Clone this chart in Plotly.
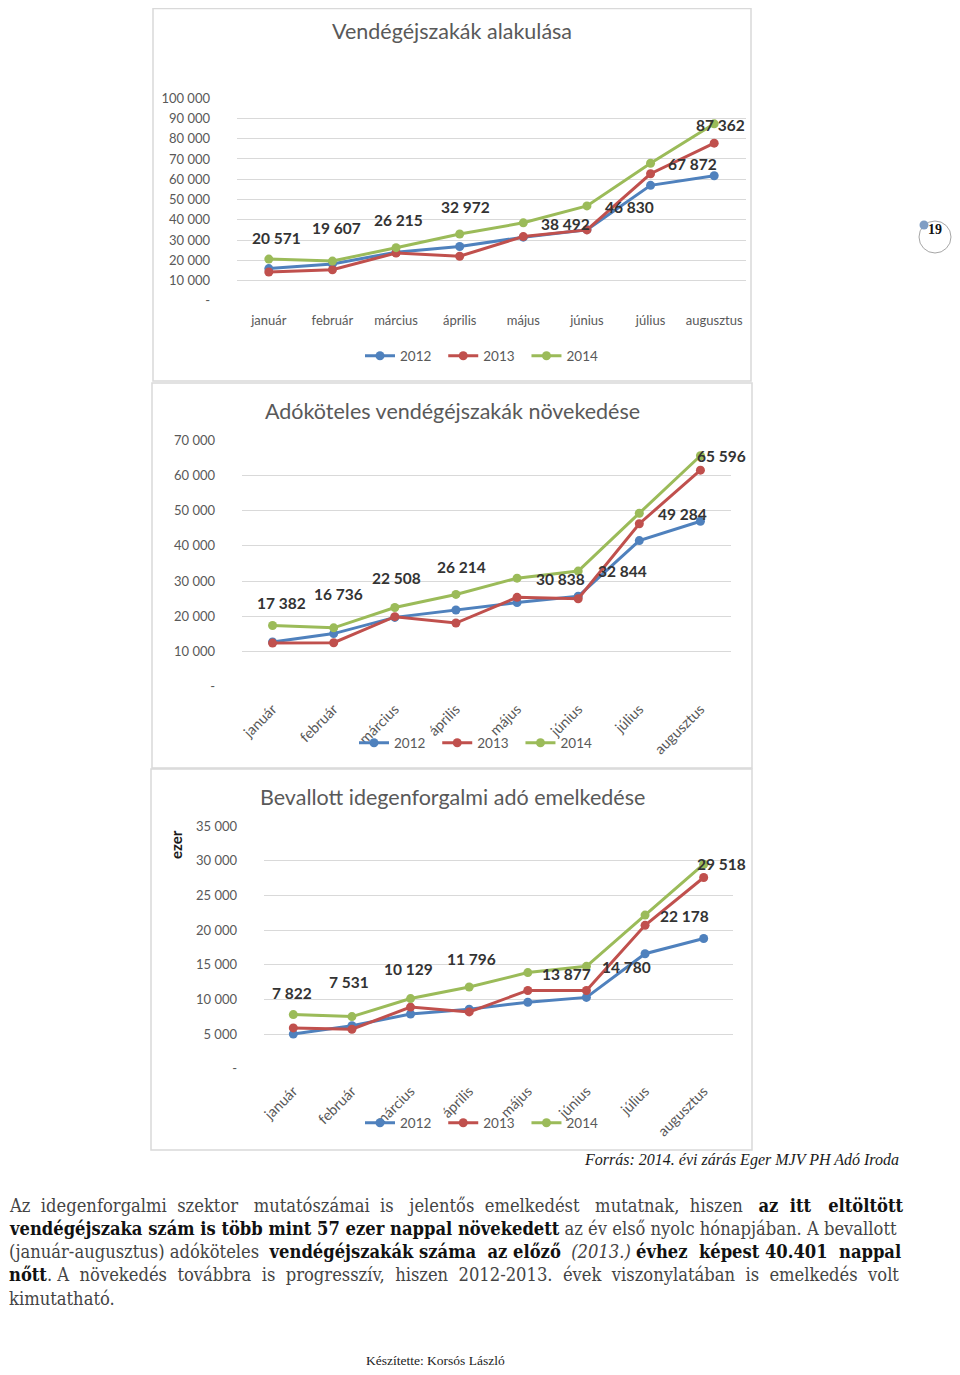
import plotly.graph_objects as go

# The html page has an 8px body margin on every side, so the figure is laid out
# in screen coordinates shifted by that margin and sized to avoid scrollbars.
BODY = 8
W, H = 960 - BODY, 1375 - 2 * BODY

# ---------------- data ----------------
months = ["január", "február", "március", "április", "május", "június", "július", "augusztus"]
years = ["2012", "2013", "2014"]

guest_2012 = [15900, 18200, 24000, 26800, 31400, 35100, 57000, 61700]
guest_2013 = [14200, 15300, 23600, 22000, 31700, 35000, 62700, 77800]
guest_2014 = [20571, 19607, 26215, 32972, 38492, 46830, 67872, 87362]

taxable_2012 = [12700, 15100, 19700, 21800, 23900, 25700, 41500, 47000]
taxable_2013 = [12400, 12500, 19900, 18100, 25400, 25000, 46300, 61500]
taxable_2014 = [17382, 16736, 22508, 26214, 30838, 32844, 49284, 65596]

tax_2012 = [5000, 6200, 7900, 8600, 9600, 10300, 16600, 18800]
tax_2013 = [5900, 5700, 8900, 8200, 11300, 11300, 20700, 27600]
tax_2014 = [7822, 7531, 10129, 11796, 13877, 14780, 22178, 29518]

ticks_guest = [0, 10000, 20000, 30000, 40000, 50000, 60000, 70000, 80000, 90000, 100000]
ticktext_guest = ["-", "10 000", "20 000", "30 000", "40 000", "50 000", "60 000",
                  "70 000", "80 000", "90 000", "100 000"]
ticks_taxable = [0, 10000, 20000, 30000, 40000, 50000, 60000, 70000]
ticktext_taxable = ["-", "10 000", "20 000", "30 000", "40 000", "50 000", "60 000", "70 000"]
ticks_tax = [0, 5000, 10000, 15000, 20000, 25000, 30000, 35000]
ticktext_tax = ["-", "5 000", "10 000", "15 000", "20 000", "25 000", "30 000", "35 000"]

titles = ["Vendégéjszakák alakulása",
          "Adóköteles vendégéjszakák növekedése",
          "Bevallott idegenforgalmi adó emelkedése"]

# paragraph lines as (text, style) segments: n = normal, b = bold, i = italic
para = [
    [("Az idegenforgalmi szektor mutatószámai is jelentős emelkedést mutatnak, hiszen ", "n"),
     ("az itt eltöltött", "b")],
    [("vendégéjszaka szám is több mint 57 ezer nappal növekedett", "b"),
     (" az év első nyolc hónapjában. A bevallott", "n")],
    [("(január-augusztus) adóköteles ", "n"), ("vendégéjszakák száma az előző", "b"),
     (" ", "n"), ("(2013.)", "i"), (" ", "n"), ("évhez képest 40.401 nappal", "b")],
    [("nőtt", "b"),
     (". A növekedés továbbra is progresszív, hiszen 2012-2013. évek viszonylatában is emelkedés volt", "n")],
    [("kimutatható.", "n")],
]

# ---------------- style ----------------
colors = ["#4F81BD", "#C0504D", "#9BBB59"]
GRID = "#D9D9D9"
TXT = "#595959"
CF = "Lato"
SERIF = "DejaVu Serif Condensed, DejaVu Serif, serif"
para_y = [1205, 1228, 1251, 1274, 1298]
para_extra = [16, 0, 5, 11, 0]   # extra word spaces per line to justify it


def px(x):
    return (x - BODY) / W


def py(y):
    return 1 - (y - BODY) / H


def justify(segments, extra):
    gaps = sum(t.count(" ") for t, _ in segments)
    gi = 0
    out = ""
    for t, s in segments:
        buf = ""
        for ch in t:
            if ch == " " and gaps:
                k = (gi + 1) * extra // gaps - gi * extra // gaps
                buf += " " + "\u00a0" * k
                gi += 1
            else:
                buf += ch
        if s == "b":
            buf = '<b><span style="color:#111111">' + buf + "</span></b>"
        elif s == "i":
            buf = "<i>" + buf + "</i>"
        out += buf
    return out


# label pixel offsets (xshift, yshift) for data labels of each chart
off1 = [(8, 21), (4, 33), (2, 28), (6, 27), (42, -1), (43, -1), (42, -1), (6, -1)]
off2 = [(9, 23), (5, 34), (2, 29), (6, 27), (43, -1), (44, 0), (43, -1), (21, 0)]
off3 = [(-1, 22), (-3, 35), (-2, 30), (2, 28), (39, -1), (40, -1), (39, -1), (18, 0)]

charts = [
    dict(series=[guest_2012, guest_2013, guest_2014], ticks=ticks_guest, ticktext=ticktext_guest,
         xdom=(237, 746), ydom=(301, 98), rng=100000, legend_xy=(485, 356), offs=off1,
         angle=0, xsize=13, xstand=10, ystand=26, title_y=31, box=(153, 8.5, 751, 381)),
    dict(series=[taxable_2012, taxable_2013, taxable_2014], ticks=ticks_taxable, ticktext=ticktext_taxable,
         xdom=(242, 731), ydom=(687, 440), rng=70000, legend_xy=(479, 743), offs=off2,
         angle=-45, xsize=14.5, xstand=10, ystand=26, title_y=411, box=(152, 383, 752, 768)),
    dict(series=[tax_2012, tax_2013, tax_2014], ticks=ticks_tax, ticktext=ticktext_tax,
         xdom=(264, 733), ydom=(1069, 826), rng=35000, legend_xy=(485, 1123), offs=off3,
         angle=-45, xsize=14.5, xstand=10, ystand=26, title_y=797, box=(151, 769, 752, 1150)),
]

fig = go.Figure()
annotations = []
shapes = []
layout = dict(
    width=W, height=H, margin=dict(l=0, r=0, t=0, b=0, autoexpand=False),
    paper_bgcolor="white", plot_bgcolor="white",
    font=dict(family=CF, color=TXT),
)

for i, c in enumerate(charts):
    n = "" if i == 0 else str(i + 1)
    xa, ya = "x" + n, "y" + n
    lg = "legend" + n
    for k, (vals, yr) in enumerate(zip(c["series"], years)):
        fig.add_trace(go.Scatter(
            x=months, y=vals, name=yr + "\u00a0\u00a0", mode="lines+markers",
            xaxis=xa, yaxis=ya, legend=lg,
            line=dict(color=colors[k], width=3),
            marker=dict(color=colors[k], size=9),
            hoverinfo="skip",
        ))
    # data labels of the 2014 series
    for m, v, (dx, dy) in zip(months, c["series"][2], c["offs"]):
        annotations.append(dict(
            x=m, y=v, xref=xa, yref=ya, text="<b>" + f"{v:,}".replace(",", " ") + "</b>",
            showarrow=False, xshift=dx, yshift=dy,
            font=dict(family=CF, size=15.5, color="#333333"),
        ))
    layout["xaxis" + n] = dict(
        domain=[px(c["xdom"][0]), px(c["xdom"][1])], anchor=ya,
        type="category", categoryorder="array", categoryarray=months,
        range=[-0.5, 7.5], showgrid=False, showline=False, zeroline=False,
        ticks="", tickangle=c["angle"], ticklabelstandoff=c["xstand"],
        tickfont=dict(family=CF, size=c["xsize"], color=TXT), automargin=False,
    )
    layout["yaxis" + n] = dict(
        domain=[py(c["ydom"][0]), py(c["ydom"][1])], anchor=xa,
        range=[-c["rng"] * 0.001, c["rng"] * 1.001],
        tickvals=c["ticks"], ticktext=c["ticktext"],
        showgrid=True, gridcolor=GRID, gridwidth=1,
        showline=False, zeroline=False, ticks="",
        ticklabelstandoff=c["ystand"], automargin=False,
        tickfont=dict(family=CF, size=13, color=TXT),
    )
    layout[lg] = dict(
        orientation="h", x=px(c["legend_xy"][0]), y=py(c["legend_xy"][1]),
        xanchor="center", yanchor="middle", bgcolor="rgba(0,0,0,0)",
        font=dict(family=CF, size=13.5, color=TXT), itemwidth=30,
    )
    # title
    annotations.append(dict(
        x=px(452), y=py(c["title_y"]), xref="paper", yref="paper", text=titles[i],
        showarrow=False, xanchor="center", yanchor="middle",
        font=dict(family=CF, size=21.5, color=TXT),
    ))
    x0, y0, x1, y1 = c["box"]
    shapes.append(dict(type="rect", xref="paper", yref="paper",
                       x0=px(x0), x1=px(x1), y0=py(y1), y1=py(y0),
                       line=dict(color="#D9D9D9", width=1.5), layer="below"))

# "ezer" axis title of third chart
annotations.append(dict(
    x=px(176), y=py(845), xref="paper", yref="paper", text="<b>ezer</b>",
    showarrow=False, textangle=-90, xanchor="center", yanchor="middle",
    font=dict(family=CF, size=15, color="#1a1a1a"),
))

# source line
annotations.append(dict(
    x=px(901), y=py(1160), xref="paper", yref="paper",
    text="<i>Forrás: 2014. évi zárás Eger MJV PH Adó Iroda</i>",
    showarrow=False, xanchor="right", yanchor="middle",
    font=dict(family="Liberation Serif", size=16, color="#1a1a1a"),
))

for segs, yy, ex in zip(para, para_y, para_extra):
    annotations.append(dict(
        x=0, y=py(yy), xref="paper", yref="paper", text=justify(segs, ex),
        showarrow=False, xanchor="left", yanchor="middle", borderpad=0,
        font=dict(family=SERIF, size=18.2, color="#444444"),
    ))

annotations.append(dict(
    x=px(435), y=py(1360), xref="paper", yref="paper", text="Készítette: Korsós László",
    showarrow=False, xanchor="center", yanchor="middle",
    font=dict(family="Liberation Serif", size=13.5, color="#222222"),
))

# page number badge (kept inside the visible page width)
cx, cy, r = 935, 237, 16
shapes.append(dict(type="circle", xref="paper", yref="paper",
                   x0=px(cx - r), x1=px(cx + r), y0=py(cy + r), y1=py(cy - r),
                   line=dict(color="#A6A6A6", width=1)))
dx, dy, dr = 924, 225, 4.5
shapes.append(dict(type="circle", xref="paper", yref="paper",
                   x0=px(dx - dr), x1=px(dx + dr), y0=py(dy + dr), y1=py(dy - dr),
                   line=dict(width=0), fillcolor="#7F9DC4"))
annotations.append(dict(
    x=px(935), y=py(230), xref="paper", yref="paper", text="<b>19</b>",
    showarrow=False, xanchor="center", yanchor="middle",
    font=dict(family="Liberation Serif", size=14, color="#111111"),
))

layout["annotations"] = annotations
layout["shapes"] = shapes
layout["showlegend"] = True
fig.update_layout(**layout)

fig.write_html("out.html")
